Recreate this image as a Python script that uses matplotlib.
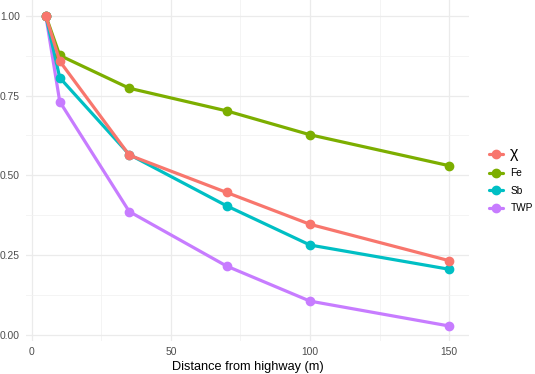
import matplotlib
matplotlib.use("Agg")
import matplotlib.pyplot as plt
from matplotlib.ticker import MultipleLocator, FormatStrFormatter

plt.rcParams['font.family'] = ['Liberation Sans', 'DejaVu Sans']

distance = [5, 10, 35, 70, 100, 150]
series_names = ["χ", "Fe", "Sb", "TWP"]
chi = [1.00, 0.858, 0.563, 0.446, 0.346, 0.232]
fe = [1.00, 0.876, 0.773, 0.702, 0.627, 0.530]
sb = [1.00, 0.806, 0.565, 0.404, 0.281, 0.205]
twp = [1.00, 0.731, 0.386, 0.215, 0.105, 0.027]
colors = ["#F8766D", "#7CAE00", "#00BFC4", "#C77CFF"]
values = [chi, fe, sb, twp]

fig = plt.figure(figsize=(5.35, 3.74), dpi=100)
ax = fig.add_axes([0.048, 0.087, 0.829, 0.912])

handles = [None] * 4
for i in [3, 2, 1, 0]:
    h, = ax.plot(distance, values[i], color=colors[i], lw=2.3, marker='o',
                 markersize=6, label=series_names[i], solid_capstyle='round')
    handles[i] = h

ax.set_xlim(-2.25, 157.25)
ax.set_ylim(-0.0216, 1.0487)
ax.xaxis.set_major_locator(MultipleLocator(50))
ax.xaxis.set_minor_locator(MultipleLocator(25))
ax.yaxis.set_major_locator(MultipleLocator(0.25))
ax.yaxis.set_minor_locator(MultipleLocator(0.125))
ax.yaxis.set_major_formatter(FormatStrFormatter('%.2f'))
ax.grid(which='major', color='#EBEBEB', lw=0.9)
ax.grid(which='minor', color='#F2F2F2', lw=0.6)
ax.set_axisbelow(True)
for s in ax.spines.values():
    s.set_visible(False)
ax.tick_params(which='both', length=0, labelsize=7.4, labelcolor='#4D4D4D', pad=4)
ax.set_xlabel("Distance from highway (m)", fontsize=9.2, color='black', labelpad=3)

leg = fig.legend(handles=handles, labels=series_names, loc='center left',
                 bbox_to_anchor=(0.897, 0.52), frameon=False, fontsize=7.3,
                 handlelength=1.4, handletextpad=0.7, labelspacing=0.75)
leg.get_texts()[0].set_fontsize(11.5)

fig.savefig("out.png", dpi=100)
